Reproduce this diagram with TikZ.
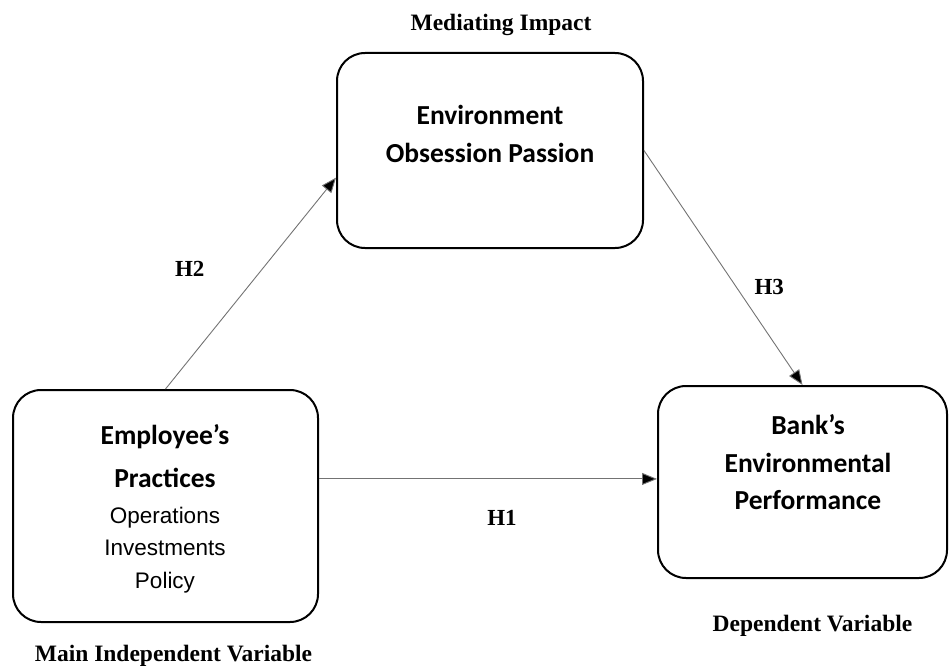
\documentclass[tikz,border=0pt]{standalone}
\usepackage{fontspec}
\setmainfont{Liberation Serif}
\newfontfamily\boxfont{Carlito}
\newfontfamily\listfont{Liberation Sans}
\usetikzlibrary{positioning,quotes,arrows.meta}

\begin{document}
\begin{tikzpicture}[x=1pt,y=-1pt,
  vbox/.style={draw,line width=2pt,rounded corners=28pt,inner sep=0pt},
  btxt/.style={font=\boxfont\bfseries\fontsize{27.5}{38}\selectfont,align=center,inner sep=0pt},
  ltxt/.style={font=\listfont\fontsize{22.5}{32.5}\selectfont,align=center,inner sep=0pt},
  caplabel/.style={font=\bfseries\fontsize{23.5}{26}\selectfont,inner sep=0pt},
  hlabel/.style={font=\bfseries\fontsize{23}{26}\selectfont,anchor=center,inner sep=0pt},
  link/.style={draw=black!55,line width=0.9pt,-{Triangle[length=15pt,width=12pt,fill=black]}}]

  \useasboundingbox (0,0) rectangle (949,669);

  % the three boxes
  \node[vbox,minimum width=305pt,minimum height=232pt] (emp) at (165.5,506) {};
  \node[vbox,minimum width=306pt,minimum height=195pt] (env) at (490,150.5) {};
  \node[vbox,minimum width=289pt,minimum height=192pt] (bank) at (802.5,482) {};

  % texts inside the boxes
  \node[btxt,font=\boxfont\bfseries\fontsize{27.5}{43}\selectfont] (emptxt) at (165,456.5) {Employee’s\\Practices};
  \node[ltxt] (emplist) at (165,550) {Operations\\Investments\\Policy};
  \node[btxt] (envtxt) at (490,134) {Environment\\Obsession Passion};
  \node[btxt,font=\boxfont\bfseries\fontsize{27.5}{37.5}\selectfont] (banktxt) at (808,462.5) {Bank’s\\Environmental\\Performance};

  % captions
  \node[caplabel,above=16pt of env,xshift=11pt] (envcap) {Mediating Impact};
  \node[caplabel,below=22pt of emp,xshift=8pt] (empcap) {Main Independent Variable};
  \node[caplabel,below=36pt of bank,xshift=10pt] (bankcap) {Dependent Variable};

  % hypotheses
  \path (emp.north) edge[link,"H2"{hlabel,xshift=-61pt,yshift=14pt}] (env.190)
    (env.east) edge[link,"H3"{hlabel,xshift=46pt,yshift=-19pt}] (bank.north)
    (emp.10) edge[link,"H1"{hlabel,xshift=14pt,yshift=-39pt}] (emp.10 -| bank.west);

\end{tikzpicture}
\end{document}
